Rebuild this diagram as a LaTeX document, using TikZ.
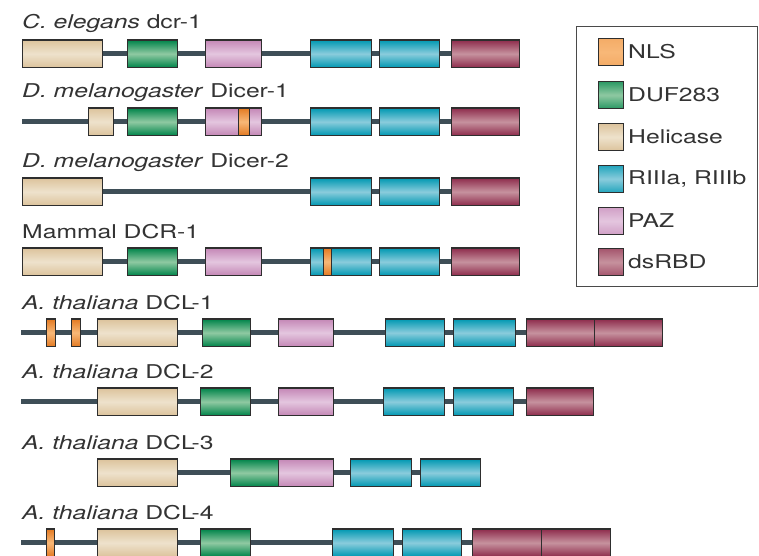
\documentclass[tikz,border=0pt]{standalone}
\usepackage{fontspec}
\setmainfont[FakeStretch=1.3]{TeX Gyre Heros}
\usetikzlibrary{backgrounds}
\definecolor{txt}{HTML}{333333}
\definecolor{edge}{HTML}{2E2E2E}
\definecolor{bb}{HTML}{3E4E57}
\definecolor{helT}{HTML}{DCC39C}\definecolor{helM}{HTML}{EEE2CC}
\definecolor{dufT}{HTML}{00844A}\definecolor{dufM}{HTML}{8FC9A2}
\definecolor{pazT}{HTML}{C487B6}\definecolor{pazM}{HTML}{E4C6DF}
\definecolor{rT}{HTML}{0098B2}\definecolor{rM}{HTML}{8ACCDC}
\definecolor{dsT}{HTML}{8E2C4C}\definecolor{dsM}{HTML}{C6929E}
\definecolor{nlT}{HTML}{E37A22}\definecolor{nlM}{HTML}{F8B878}
\definecolor{legline}{HTML}{4A4A4A}
\tikzset{
  dom/.style={draw=edge, line width=1.2pt, minimum height=27.5pt, inner sep=0pt, anchor=west},
  hel/.style={dom, top color=helT, bottom color=helT, middle color=helM},
  duf/.style={dom, top color=dufT, bottom color=dufT, middle color=dufM},
  paz/.style={dom, top color=pazT, bottom color=pazT, middle color=pazM},
  riii/.style={dom, top color=rT, bottom color=rT, middle color=rM},
  dsr/.style={dom, top color=dsT, bottom color=dsT, middle color=dsM},
  nls/.style={dom, top color=nlT, bottom color=nlT, middle color=nlM},
  backbone/.style={draw=bb, line width=5pt},
  lab/.style={anchor=base west, inner sep=0pt, text=txt, font=\fontsize{19}{22}\selectfont},
  sw/.style={minimum width=25pt, minimum height=27pt, line width=1pt, inner sep=0pt, anchor=north west},
  legtext/.style={anchor=west, inner sep=0pt, text=txt, font=\fontsize{19}{22}\selectfont},
}
\begin{document}
\begin{tikzpicture}[x=1pt,y=-1pt]
\useasboundingbox (0,0) rectangle (759,555);
% ---------- Row 1: C. elegans dcr-1
\node[lab] (l1) at (22,28) {\textit{C. elegans} dcr-1};
\node[hel, minimum width=80pt] (a1) at (22,53.75) {};
\node[duf, minimum width=50pt] (a2) at (127,53.75) {};
\node[paz, minimum width=56pt] (a3) at (205,53.75) {};
\node[riii, minimum width=61pt] (a4) at (310,53.75) {};
\node[riii, minimum width=60pt] (a5) at (379,53.75) {};
\node[dsr, minimum width=68pt] (a6) at (451,53.75) {};
% ---------- Row 2: Dicer-1
\node[lab] (l2) at (22,97) {\textit{D. melanogaster} Dicer-1};
\coordinate (b0) at (22,121.75);
\node[hel, minimum width=25pt] (b1) at (88,121.75) {};
\node[duf, minimum width=50pt] (b2) at (127,121.75) {};
\node[paz, minimum width=56pt] (b3) at (205,121.75) {};
\node[nls, minimum width=11pt] (b3n) at (238,121.75) {};
\node[riii, minimum width=61pt] (b4) at (310,121.75) {};
\node[riii, minimum width=60pt] (b5) at (379,121.75) {};
\node[dsr, minimum width=68pt] (b6) at (451,121.75) {};
% ---------- Row 3: Dicer-2
\node[lab] (l3) at (22,167) {\textit{D. melanogaster} Dicer-2};
\node[hel, minimum width=80pt] (c1) at (22,191.75) {};
\node[riii, minimum width=61pt] (c4) at (310,191.75) {};
\node[riii, minimum width=60pt] (c5) at (379,191.75) {};
\node[dsr, minimum width=68pt] (c6) at (451,191.75) {};
% ---------- Row 4: Mammal DCR-1
\node[lab] (l4) at (22,238) {Mammal DCR-1};
\node[hel, minimum width=80pt] (d1) at (22,261.75) {};
\node[duf, minimum width=50pt] (d2) at (127,261.75) {};
\node[paz, minimum width=56pt] (d3) at (205,261.75) {};
\node[riii, minimum width=61pt] (d4) at (310,261.75) {};
\node[nls, minimum width=8pt] (d4n) at (323,261.75) {};
\node[riii, minimum width=60pt] (d5) at (379,261.75) {};
\node[dsr, minimum width=68pt] (d6) at (451,261.75) {};
% ---------- Row 5: DCL-1
\node[lab] (l5) at (22,309) {\textit{A. thaliana} DCL-1};
\coordinate (e0) at (21,332.75);
\node[nls, minimum width=9pt] (en1) at (46,332.75) {};
\node[nls, minimum width=9pt] (en2) at (71,332.75) {};
\node[hel, minimum width=80pt] (e1) at (97,332.75) {};
\node[duf, minimum width=48pt] (e2) at (202,332.75) {};
\node[paz, minimum width=55pt] (e3) at (278,332.75) {};
\node[riii, minimum width=59pt] (e4) at (385,332.75) {};
\node[riii, minimum width=62pt] (e5) at (453,332.75) {};
\node[dsr, minimum width=68pt] (e6) at (526,332.75) {};
\node[dsr, minimum width=68pt] (e7) at (594,332.75) {};
% ---------- Row 6: DCL-2
\node[lab] (l6) at (22,378) {\textit{A. thaliana} DCL-2};
\coordinate (f0) at (21,401.75);
\node[hel, minimum width=80pt] (f1) at (97,401.75) {};
\node[duf, minimum width=50pt] (f2) at (200,401.75) {};
\node[paz, minimum width=55pt] (f3) at (278,401.75) {};
\node[riii, minimum width=61pt] (f4) at (383,401.75) {};
\node[riii, minimum width=60pt] (f5) at (453,401.75) {};
\node[dsr, minimum width=67pt] (f6) at (526,401.75) {};
% ---------- Row 7: DCL-3
\node[lab] (l7) at (22,449) {\textit{A. thaliana} DCL-3};
\node[hel, minimum width=80pt] (g1) at (97,472.75) {};
\node[duf, minimum width=48pt] (g2) at (230,472.75) {};
\node[paz, minimum width=55pt] (g3) at (278,472.75) {};
\node[riii, minimum width=61pt] (g4) at (350,472.75) {};
\node[riii, minimum width=60pt] (g5) at (420,472.75) {};
% ---------- Row 8: DCL-4
\node[lab] (l8) at (22,519) {\textit{A. thaliana} DCL-4};
\coordinate (h0) at (21,542.75);
\node[nls, minimum width=8pt] (hn1) at (46,542.75) {};
\node[hel, minimum width=80pt] (h1) at (97,542.75) {};
\node[duf, minimum width=50pt] (h2) at (200,542.75) {};
\node[riii, minimum width=61pt] (h4) at (332,542.75) {};
\node[riii, minimum width=59pt] (h5) at (402,542.75) {};
\node[dsr, minimum width=69pt] (h6) at (472,542.75) {};
\node[dsr, minimum width=69pt] (h7) at (541,542.75) {};
% ---------- backbones
\begin{scope}[on background layer]
\draw[backbone] (a1.east) -- (a6.west);
\draw[backbone] (b0) -- (b6.west);
\draw[backbone] (c1.east) -- (c6.west);
\draw[backbone] (d1.east) -- (d6.west);
\draw[backbone] (e0) -- (e6.west);
\draw[backbone] (f0) -- (f6.west);
\draw[backbone] (g1.east) -- (g5.west);
\draw[backbone] (h0) -- (h6.west);
\end{scope}
% ---------- legend
\node[draw=legline, line width=1.2pt, minimum width=181pt, minimum height=260pt, inner sep=0pt, anchor=north west] (leg) at (576,26) {};
\node[nls, top color=nlM!80!nlT, bottom color=nlM!80!nlT, middle color=nlM, sw] (k1) at (598,38) {};
\node[legtext] (t1) at (628,51.5) {NLS};
\node[duf, top color=dufT!70!dufM, bottom color=dufT!70!dufM, middle color=dufM, sw] (k2) at (598,81) {};
\node[legtext] (t2) at (628,94.5) {DUF283};
\node[hel, sw] (k3) at (598,123) {};
\node[legtext] (t3) at (628,136.5) {Helicase};
\node[riii, top color=rT!75!rM, bottom color=rT!75!rM, middle color=rM, sw] (k4) at (598,165) {};
\node[legtext] (t4) at (628,178.5) {RIIIa, RIIIb};
\node[paz, top color=pazT!60!pazM, bottom color=pazT!60!pazM, middle color=pazM, sw] (k5) at (598,207) {};
\node[legtext] (t5) at (628,220.5) {PAZ};
\node[dsr, top color=dsT!60!dsM, bottom color=dsT!60!dsM, middle color=dsM, sw] (k6) at (598,248) {};
\node[legtext] (t6) at (628,261.5) {dsRBD};
\end{tikzpicture}
\end{document}
